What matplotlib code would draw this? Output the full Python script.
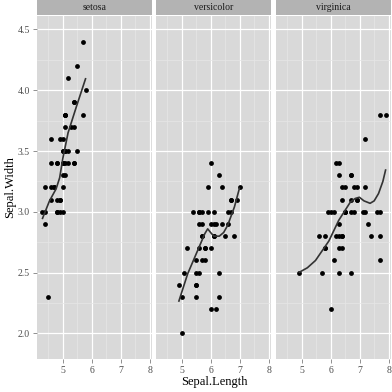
import matplotlib.pyplot as plt
from matplotlib.ticker import FixedLocator

# iris: Sepal.Length / Sepal.Width by species
species = ['setosa', 'versicolor', 'virginica']

setosa_len = [5.1, 4.9, 4.7, 4.6, 5.0, 5.4, 4.6, 5.0, 4.4, 4.9, 5.4, 4.8, 4.8, 4.3, 5.8, 5.7, 5.4,
              5.1, 5.7, 5.1, 5.4, 5.1, 4.6, 5.1, 4.8, 5.0, 5.0, 5.2, 5.2, 4.7, 4.8, 5.4, 5.2, 5.5,
              4.9, 5.0, 5.5, 4.9, 4.4, 5.1, 5.0, 4.5, 4.4, 5.0, 5.1, 4.8, 5.1, 4.6, 5.3, 5.0]
setosa_wid = [3.5, 3.0, 3.2, 3.1, 3.6, 3.9, 3.4, 3.4, 2.9, 3.1, 3.7, 3.4, 3.0, 3.0, 4.0, 4.4, 3.9,
              3.5, 3.8, 3.8, 3.4, 3.7, 3.6, 3.3, 3.4, 3.0, 3.4, 3.5, 3.4, 3.2, 3.1, 3.4, 4.1, 4.2,
              3.1, 3.2, 3.5, 3.6, 3.0, 3.4, 3.5, 2.3, 3.2, 3.5, 3.8, 3.0, 3.8, 3.2, 3.7, 3.3]

versicolor_len = [7.0, 6.4, 6.9, 5.5, 6.5, 5.7, 6.3, 4.9, 6.6, 5.2, 5.0, 5.9, 6.0, 6.1, 5.6, 6.7,
                  5.6, 5.8, 6.2, 5.6, 5.9, 6.1, 6.3, 6.1, 6.4, 6.6, 6.8, 6.7, 6.0, 5.7, 5.5, 5.5,
                  5.8, 6.0, 5.4, 6.0, 6.7, 6.3, 5.6, 5.5, 5.5, 6.1, 5.8, 5.0, 5.6, 5.7, 5.7, 6.2,
                  5.1, 5.7]
versicolor_wid = [3.2, 3.2, 3.1, 2.3, 2.8, 2.8, 3.3, 2.4, 2.9, 2.7, 2.0, 3.0, 2.2, 2.9, 2.9, 3.1,
                  3.0, 2.7, 2.2, 2.5, 3.2, 2.8, 2.5, 2.8, 2.9, 3.0, 2.8, 3.0, 2.9, 2.6, 2.4, 2.4,
                  2.7, 2.7, 3.0, 3.4, 3.1, 2.3, 3.0, 2.5, 2.6, 3.0, 2.6, 2.3, 2.7, 3.0, 2.9, 2.9,
                  2.5, 2.8]

virginica_len = [6.3, 5.8, 7.1, 6.3, 6.5, 7.6, 4.9, 7.3, 6.7, 7.2, 6.5, 6.4, 6.8, 5.7, 5.8, 6.4,
                 6.5, 7.7, 7.7, 6.0, 6.9, 5.6, 7.7, 6.3, 6.7, 7.2, 6.2, 6.1, 6.4, 7.2, 7.4, 7.9,
                 6.4, 6.3, 6.1, 7.7, 6.3, 6.4, 6.0, 6.9, 6.7, 6.9, 5.8, 6.8, 6.7, 6.7, 6.3, 6.5,
                 6.2, 5.9]
virginica_wid = [3.3, 2.7, 3.0, 2.9, 3.0, 3.0, 2.5, 2.9, 2.5, 3.6, 3.2, 2.7, 3.0, 2.5, 2.8, 3.2,
                 3.0, 3.8, 2.6, 2.2, 3.2, 2.8, 2.8, 2.7, 3.3, 3.2, 2.8, 3.0, 2.8, 3.0, 2.8, 3.8,
                 2.8, 2.8, 2.6, 3.0, 3.4, 3.1, 3.0, 3.1, 3.1, 3.1, 2.7, 3.2, 3.3, 3.0, 2.5, 3.0,
                 3.4, 3.0]

# smooth curves
setosa_fit_x = [4.30, 4.55, 4.78, 4.90, 5.01, 5.19, 5.47, 5.80]
setosa_fit_y = [2.94, 3.09, 3.19, 3.28, 3.44, 3.65, 3.86, 4.10]
versicolor_fit_x = [4.90, 5.21, 5.55, 5.80, 5.90, 6.00, 6.11, 6.30, 6.45, 6.59, 6.82, 7.00]
versicolor_fit_y = [2.26, 2.49, 2.68, 2.82, 2.86, 2.83, 2.80, 2.80, 2.83, 2.89, 3.04, 3.20]
virginica_fit_x = [4.90, 5.20, 5.48, 5.94, 6.28, 6.68, 6.85, 6.99, 7.15, 7.36, 7.50, 7.65, 7.80, 7.90]
virginica_fit_y = [2.50, 2.54, 2.60, 2.76, 2.93, 3.08, 3.11, 3.12, 3.09, 3.07, 3.09, 3.15, 3.25, 3.35]

xs = [setosa_len, versicolor_len, virginica_len]
ys = [setosa_wid, versicolor_wid, virginica_wid]
fit_x = [setosa_fit_x, versicolor_fit_x, virginica_fit_x]
fit_y = [setosa_fit_y, versicolor_fit_y, virginica_fit_y]

x_ticks = [5, 6, 7, 8]
y_ticks = [2.0, 2.5, 3.0, 3.5, 4.0, 4.5]

plt.rcParams['font.family'] = ['Liberation Serif', 'DejaVu Serif']

W = H = 392.0
fig = plt.figure(figsize=(3.92, 3.92), dpi=100)

panel_left = [37, 156, 276]
panel_w = 115
panel_top = 16
panel_bottom = 359

for i in range(3):
    l = panel_left[i]
    ax = fig.add_axes([l / W, (H - panel_bottom) / H, panel_w / W, (panel_bottom - panel_top) / H])
    ax.set_facecolor('#d9d9d9')
    ax.set_xlim(4.12, 8.08)
    ax.set_ylim(1.79, 4.61)
    ax.xaxis.set_major_locator(FixedLocator(x_ticks))
    ax.xaxis.set_minor_locator(FixedLocator([4.5, 5.5, 6.5, 7.5]))
    ax.yaxis.set_major_locator(FixedLocator(y_ticks))
    ax.yaxis.set_minor_locator(FixedLocator([2.25, 2.75, 3.25, 3.75, 4.25]))
    ax.grid(which='major', color='white', linewidth=0.9)
    ax.grid(which='minor', color='#e6e6e6', linewidth=0.5)
    ax.set_axisbelow(True)
    for s in ax.spines.values():
        s.set_visible(False)
    ax.tick_params(which='major', length=3, width=0.6, color='#7f7f7f',
                   labelsize=7, labelcolor='#4d4d4d', pad=2)
    ax.tick_params(which='minor', length=0)
    ax.set_xticklabels([str(t) for t in x_ticks])
    if i == 0:
        ax.set_yticklabels(['%.1f' % t for t in y_ticks])
    else:
        ax.tick_params(axis='y', which='major', length=0, labelleft=False)

    ax.scatter(xs[i], ys[i], s=12, color='black', linewidths=0, zorder=3)
    ax.plot(fit_x[i], fit_y[i], color='#333333', linewidth=1.2, zorder=4,
            solid_capstyle='butt', solid_joinstyle='round')

    # facet strip
    sax = fig.add_axes([l / W, (H - 15) / H, panel_w / W, 15 / H])
    sax.set_facecolor('#b3b3b3')
    sax.set_xticks([])
    sax.set_yticks([])
    for s in sax.spines.values():
        s.set_visible(False)
    sax.text(0.5, 0.5, species[i], ha='center', va='center', fontsize=7, color='#1a1a1a',
             transform=sax.transAxes)

fig.text(214 / W, (H - 382) / H, 'Sepal.Length', ha='center', va='center', fontsize=9)
fig.text(10 / W, (H - 187) / H, 'Sepal.Width', ha='center', va='center', fontsize=9, rotation=90)

fig.savefig('out.png', dpi=100)
